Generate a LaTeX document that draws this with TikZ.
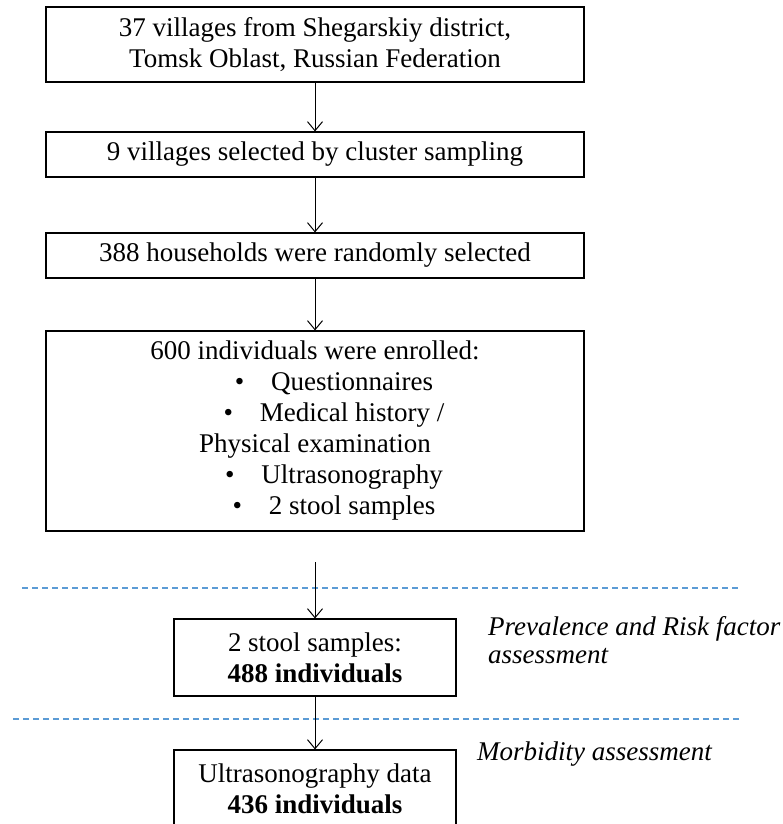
\documentclass[tikz,border=0pt]{standalone}
\usepackage{fontspec}
\setmainfont{Liberation Serif}
\usetikzlibrary{arrows.meta}
\definecolor{dashblue}{HTML}{5B9BD5}
\tikzset{
  stagebox/.style={draw, line width=1.1pt, align=center, inner sep=0pt,
    minimum width=538pt, font=\fontsize{27}{31}\selectfont},
  smallbox/.style={stagebox, minimum width=282pt, minimum height=77pt},
  flow/.style={-{Straight Barb[length=9pt,width=15pt]}, line width=1pt},
  divider/.style={dashblue, line width=1.1pt, dash pattern=on 6pt off 4pt},
  phase/.style={font=\fontsize{27}{28}\selectfont\itshape, align=left, inner sep=0pt},
}
\newcommand{\bulletline}[1]{\hspace*{38pt}\textbullet\hspace{1em}#1}

\begin{document}
\begin{tikzpicture}[x=1pt, y=-1pt]
    \clip (0, 0) rectangle (783, 824);
    \node [stagebox, minimum height=75pt] (villages) at (315, 44.5)
      {37 villages from Shegarskiy district,\\Tomsk Oblast, Russian Federation};
    \node [stagebox, minimum height=45pt] (cluster) at (315, 154.5)
      {9 villages selected by cluster sampling};
    \node [stagebox, minimum height=45pt] (households) at (315, 255.5)
      {388 households were randomly selected};
    \node [stagebox, minimum height=200pt] (enrolled) at (315, 431)
      {600 individuals were enrolled:\\
       \bulletline{Questionnaires}\\
       \bulletline{Medical history /}\\
       Physical examination\\
       \bulletline{Ultrasonography}\\
       \bulletline{2 stool samples}};
    \node [smallbox] (stool) at (315, 657.5) {2 stool samples:\\\textbf{488 individuals}};
    \node [smallbox] (ultra) at (315, 788.5) {Ultrasonography data\\\textbf{436 individuals}};
    \coordinate (gap) at (315, 562);
    % phases
    \draw [divider] (22, 588) -- (740, 588);
    \draw [divider] (13, 719) -- (740, 719);
    \node [phase, anchor=west] (prevalence) at (488, 640)
      {Prevalence and Risk factor\\assessment};
    \node [phase, anchor=base west] (morbidity) at (477, 760) {Morbidity assessment};
    % arrows
    \draw [flow] (villages) -- (cluster);
    \draw [flow] (cluster) -- (households);
    \draw [flow] (households) -- (enrolled);
    \draw [flow] (gap) -- (stool);
    \draw [flow] (stool) -- (ultra);
  \end{tikzpicture}
\end{document}
